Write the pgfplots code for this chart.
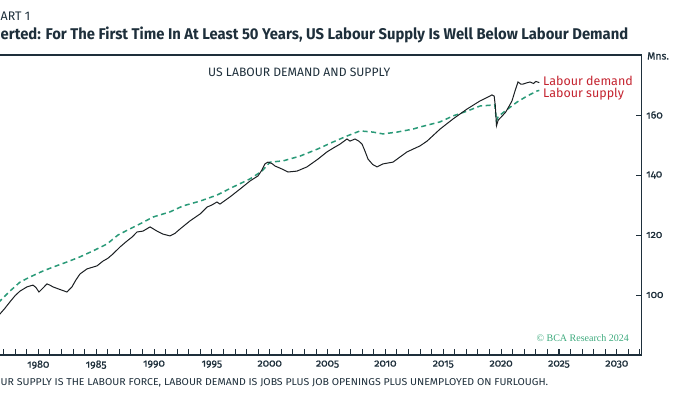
\documentclass[border=0pt]{standalone}
\usepackage{pgfplots}
\pgfplotsset{compat=1.18}
\usepackage{fontspec}
\setmainfont{Fira Sans}
\newfontfamily\tickfont[Numbers=OldStyle, FakeBold=0.8]{Fira Sans}
\newfontfamily\serfont{Liberation Serif}
\definecolor{ink}{HTML}{1E2F3B}
\definecolor{demandc}{HTML}{1B1F22}
\definecolor{supplyc}{HTML}{2A9A78}
\definecolor{legred}{HTML}{C4232F}
\definecolor{copyc}{HTML}{3DAA7D}

\pgfplotstableread{
year value
1976.00 91.5
1976.69 93.7
1977.10 95.5
1977.55 97.7
1978.00 99.8
1978.42 101.3
1979.02 102.7
1979.54 103.3
1979.80 102.5
1980.06 101.0
1980.40 102.3
1980.75 103.7
1981.00 103.3
1981.27 102.7
1981.90 101.8
1982.48 101.0
1982.91 102.7
1983.25 105.0
1983.60 107.0
1984.21 108.7
1985.07 109.7
1985.59 111.3
1986.00 112.2
1986.46 113.7
1987.06 116.0
1987.67 118.0
1988.10 119.3
1988.53 121.0
1989.05 121.3
1989.66 122.7
1990.26 121.3
1990.78 120.3
1991.38 119.7
1991.80 120.5
1992.25 122.0
1993.11 124.7
1993.98 127.0
1994.58 129.3
1995.00 130.0
1995.44 131.0
1995.70 130.3
1996.57 132.7
1997.43 135.3
1998.30 138.0
1998.99 139.7
1999.30 141.5
1999.59 143.7
1999.85 144.3
2000.20 143.8
2000.46 143.0
2001.06 142.0
2001.58 141.0
2002.36 141.3
2003.22 142.7
2004.17 145.3
2004.95 147.7
2005.50 149.0
2006.08 150.3
2006.68 152.0
2006.94 151.3
2007.37 152.0
2007.70 151.3
2007.98 150.3
2008.20 148.3
2008.50 145.3
2008.90 143.5
2009.28 142.7
2009.79 143.7
2010.66 144.3
2011.26 146.0
2011.87 147.7
2012.99 149.7
2013.60 151.3
2014.72 155.3
2015.85 158.7
2017.06 162.0
2018.18 164.7
2018.87 166.0
2019.21 166.7
2019.40 166.3
2019.50 163.0
2019.60 156.4
2019.75 158.3
2020.10 159.7
2020.40 161.0
2020.70 163.0
2020.94 164.7
2021.20 168.0
2021.46 171.0
2021.70 170.3
2021.89 170.3
2022.20 170.7
2022.50 171.0
2022.80 170.5
2023.00 171.2
2023.30 170.8
}\demandtable

\pgfplotstableread{
year value
1976.00 95.5
1976.69 98.0
1977.55 101.3
1978.42 104.3
1979.28 106.0
1980.41 108.0
1981.27 109.3
1982.48 111.0
1983.60 112.7
1984.73 114.7
1985.94 117.0
1986.89 120.0
1987.90 122.0
1988.79 123.7
1989.92 126.0
1991.38 127.7
1992.51 129.7
1993.98 131.3
1995.44 133.3
1996.83 136.0
1998.30 138.7
1999.33 141.3
2000.03 144.3
2001.15 144.7
2002.62 146.3
2004.17 148.7
2005.47 151.0
2006.68 153.0
2007.81 154.7
2008.93 154.3
2009.79 153.7
2011.00 154.3
2012.38 155.3
2012.99 156.0
2014.72 157.7
2015.85 159.7
2017.06 161.3
2018.18 163.0
2019.21 163.3
2019.45 163.5
2019.60 158.0
2019.75 159.5
2020.34 161.3
2021.37 164.3
2022.24 166.3
2023.10 168.0
2023.30 168.2
}\supplytable

\begin{document}
\begin{tikzpicture}[x=1pt,y=1pt]
\useasboundingbox (0,0) rectangle (700,394);
\clip (0,0) rectangle (700,394);
\begin{axis}[
  at={(-8.0pt,39pt)}, anchor=south west,
  scale only axis, width=649.7pt, height=300pt,
  xmin=1976, xmax=2032.15, ymin=80, ymax=180,
  axis line style={ink, line width=1.2pt},
  xtick={1980,1985,...,2030},
  minor xtick={1976,1977,...,2032},
  ytick={100,120,140,160},
  xtick pos=left, ytick pos=right,
  yticklabel pos=right,
  tick align=inside,
  major tick length=6pt, minor tick length=6pt,
  tick style={ink, line width=0.9pt},
  /pgf/number format/assume math mode=true,
  x tick label style={/pgf/number format/1000 sep={}, font=\tickfont\fontsize{10.5}{12}\selectfont, text=ink, yshift=-2pt},
  y tick label style={font=\tickfont\fontsize{10.5}{12}\selectfont, text=ink, xshift=1pt},
]
\addplot[supplyc, line width=1.5pt, dash pattern=on 5pt off 3.5pt] table[x=year,y=value] {\supplytable};
\addplot[demandc, line width=1pt] table[x=year,y=value] {\demandtable};
\end{axis}

% header (the reference is cropped at its left edge)
\node[anchor=base west, inner sep=0, text=ink] at (0.5,373.3) {\resizebox{29.5pt}{!}{ART 1}};
\node[anchor=base west, inner sep=0, text=ink] at (0.5,354.7) {\resizebox{627.5pt}{12.6pt}{\bfseries erted: For The First Time In At Least 50 Years, US Labour Supply Is Well Below Labour Demand}};

% inner title
\node[anchor=base west, inner sep=0, text=ink] at (208,317.5) {\resizebox{182pt}{!}{US LABOUR DEMAND AND SUPPLY}};

% legend labels
\node[anchor=base west, inner sep=0, text=legred, font=\fontsize{12.5}{14}\selectfont] at (543,308) {Labour demand};
\node[anchor=base west, inner sep=0, text=legred, font=\fontsize{12.5}{14}\selectfont] at (543,296.5) {Labour supply};

% unit label
\node[anchor=west, inner sep=0, text=ink, font=\tickfont\fontsize{10.5}{12}\selectfont] at (647,338) {Mns.};

% copyright
\node[anchor=base east, inner sep=0, text=copyc, font=\serfont\fontsize{10}{12}\selectfont] at (629,52.3) {\textcopyright{} BCA Research 2024};

% footnote
\node[anchor=base west, inner sep=0, text=ink] at (0.5,9) {\resizebox{547.5pt}{7pt}{UR SUPPLY IS THE LABOUR FORCE, LABOUR DEMAND IS JOBS PLUS JOB OPENINGS PLUS UNEMPLOYED ON FURLOUGH.}};
\end{tikzpicture}
\end{document}
